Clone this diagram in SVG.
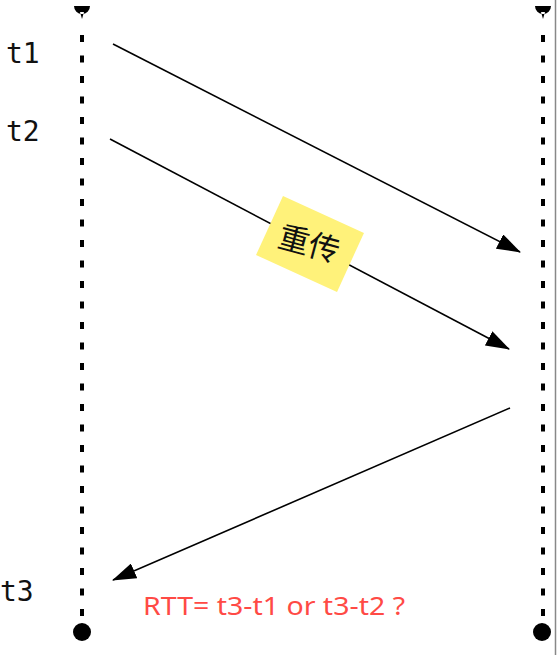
<svg xmlns="http://www.w3.org/2000/svg" width="557" height="655" viewBox="0 0 557 655">
<style>
.life{stroke:#000;stroke-width:4;stroke-dasharray:7 13.5;fill:none}
.msg{stroke:#000;stroke-width:1.6;fill:none;marker-end:url(#ah)}
.lbl{font-family:"DejaVu Sans Mono","Liberation Mono",monospace;font-size:28px;fill:#111}
</style>
<defs>
<marker id="ah" viewBox="0 0 24 16" refX="23" refY="8" markerWidth="24" markerHeight="16" markerUnits="userSpaceOnUse" orient="auto">
<path d="M0,0 L24,8 L0,16 Z" fill="#000"/>
</marker>
</defs>
<rect width="557" height="655" fill="#fff"/>
<line x1="555.5" y1="0" x2="555.5" y2="655" stroke="#888" stroke-width="1.5"/>
<g id="lifeline-left">
<path d="M74,6 A8,8 0 0 0 90,6 Z M80,12 L84,12 L82,19 Z" fill="#000"/>
<line class="life" x1="82" y1="35" x2="82" y2="620"/>
<circle cx="82" cy="632" r="9" fill="#000"/>
</g>
<g id="lifeline-right">
<path d="M535,6 A8,8 0 0 0 551,6 Z M541,12 L545,12 L543,19 Z" fill="#000"/>
<line class="life" x1="543" y1="35" x2="543" y2="620"/>
<circle cx="542" cy="632" r="9" fill="#000"/>
</g>
<g id="connectors">
<line class="msg" x1="113" y1="44" x2="520" y2="252"/>
<line class="msg" x1="110" y1="139" x2="509" y2="349"/>
<line class="msg" x1="510" y1="408" x2="113" y2="580"/>
</g>
<g id="labels">
<text class="lbl" x="6" y="63">t1</text>
<text class="lbl" x="6" y="141">t2</text>
<text class="lbl" x="0" y="601">t3</text>
</g>
<g id="note">
<rect x="-44.5" y="-32.5" width="89" height="65" fill="#FFF27A" transform="translate(310,244) rotate(24.5)"/>
<text x="0" y="11" text-anchor="middle" font-family="'Noto Sans CJK SC',sans-serif" font-size="31" fill="#111" transform="translate(309,244) rotate(15)">重传</text>
</g>
<g id="rtt">
<text x="143" y="615" font-family="'Noto Sans','Liberation Sans',sans-serif" font-size="26" fill="#FF4A45" textLength="262" lengthAdjust="spacingAndGlyphs">RTT= t3-t1 or t3-t2 ?</text>
</g>
</svg>
